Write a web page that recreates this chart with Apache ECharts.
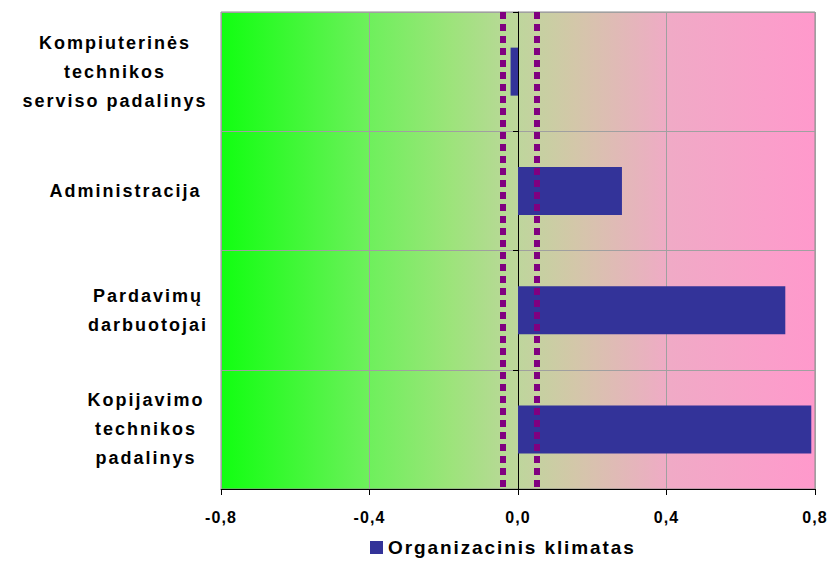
<!DOCTYPE html>
<html>
<head>
<meta charset="utf-8">
<script src="https://cdn.jsdelivr.net/npm/echarts@6/dist/echarts.min.js"></script>
<style>
html,body{margin:0;padding:0;background:#fff;}
#chart{width:831px;height:561px;}
text[style*="18px"]{letter-spacing:2px;}
text[style*="16px"]{letter-spacing:1.1px;}
text[style*="19px"]{letter-spacing:1.9px;}
</style>
</head>
<body>
<div id="chart"></div>
<script>
var categories = ['Kompiuterinės\ntechnikos\nserviso padalinys', 'Administracija', 'Pardavimų\ndarbuotojai', 'Kopijavimo\ntechnikos\npadalinys'];
var seriesName = 'Organizacinis klimatas';
var values = [-0.02, 0.28, 0.72, 0.79];
var refLines = [-0.045, 0.05];
var xTicks = [-0.8, -0.4, 0.0, 0.4, 0.8];

// label block widths (style only): lines are centred inside a right-aligned block
var blockWidths = [178, 157, 112, 116];

var chart = echarts.init(document.getElementById('chart'), null, {renderer: 'svg'});
var fontFam = '"Liberation Sans", Arial, sans-serif';
var rich = {};
blockWidths.forEach(function (w, i) {
  rich['b' + i] = {width: w, align: 'center', fontFamily: fontFam, fontWeight: 'bold', fontSize: 18, lineHeight: 29, color: '#000'};
});
chart.setOption({
  animation: false,
  grid: {
    left: 221, right: 16, top: 12, bottom: 72,
    show: true,
    borderColor: '#8c8c8c', borderWidth: 1,
    backgroundColor: {
      type: 'linear', x: 0, y: 0, x2: 1, y2: 0,
      colorStops: [
        {offset: 0, color: '#11ff11'},
        {offset: 0.25, color: '#6ef05c'},
        {offset: 0.385, color: '#9ce47a'},
        {offset: 0.5, color: '#bed69c'},
        {offset: 0.59, color: '#d2c8a8'},
        {offset: 0.756, color: '#f0aac6'},
        {offset: 1, color: '#ff99cc'}
      ]
    }
  },
  legend: {
    data: [seriesName],
    left: 365, top: 533,
    itemWidth: 13, itemHeight: 13, itemGap: 5,
    icon: 'rect',
    textStyle: {fontFamily: fontFam, fontWeight: 'bold', fontSize: 19, color: '#000'}
  },
  xAxis: {
    type: 'value', min: -0.8, max: 0.8, interval: 0.4,
    axisLine: {show: true, onZero: false, lineStyle: {color: '#000', width: 1}},
    axisTick: {show: true, length: 6, lineStyle: {color: '#000'}},
    splitLine: {show: true, lineStyle: {color: '#a0a0a0', width: 1}},
    axisLabel: {
      margin: 20, fontFamily: fontFam, fontWeight: 'bold', fontSize: 16, color: '#000',
      formatter: function (v) { return v.toFixed(1).replace('.', ','); }
    }
  },
  yAxis: [{
    type: 'category', data: categories, inverse: true,
    axisLine: {show: false, onZero: false},
    axisTick: {show: false},
    splitLine: {show: true, lineStyle: {color: '#a0a0a0', width: 1}},
    axisLabel: {
      margin: 17, align: 'right',
      fontFamily: fontFam, fontWeight: 'bold', fontSize: 18, lineHeight: 29, color: '#000',
      formatter: function (v, i) {
        return v.split('\n').map(function (line) { return '{b' + i + '|' + line + '}'; }).join('\n');
      },
      rich: rich
    }
  }, {
    type: 'category', data: categories, inverse: true, position: 'left',
    axisLine: {show: true, onZero: true, lineStyle: {color: '#000', width: 1}},
    axisTick: {show: true, length: 5, lineStyle: {color: '#000'}},
    axisLabel: {show: false},
    splitLine: {show: false}
  }],
  series: [{
    name: seriesName, type: 'bar', data: values, barWidth: 48,
    itemStyle: {color: '#333399'},
    markLine: {
      silent: true, symbol: 'none', label: {show: false},
      lineStyle: {color: '#800080', width: 6, type: [7, 5], opacity: 1},
      data: refLines.map(function (v) { return {xAxis: v}; })
    }
  }]
});
</script>
</body>
</html>
